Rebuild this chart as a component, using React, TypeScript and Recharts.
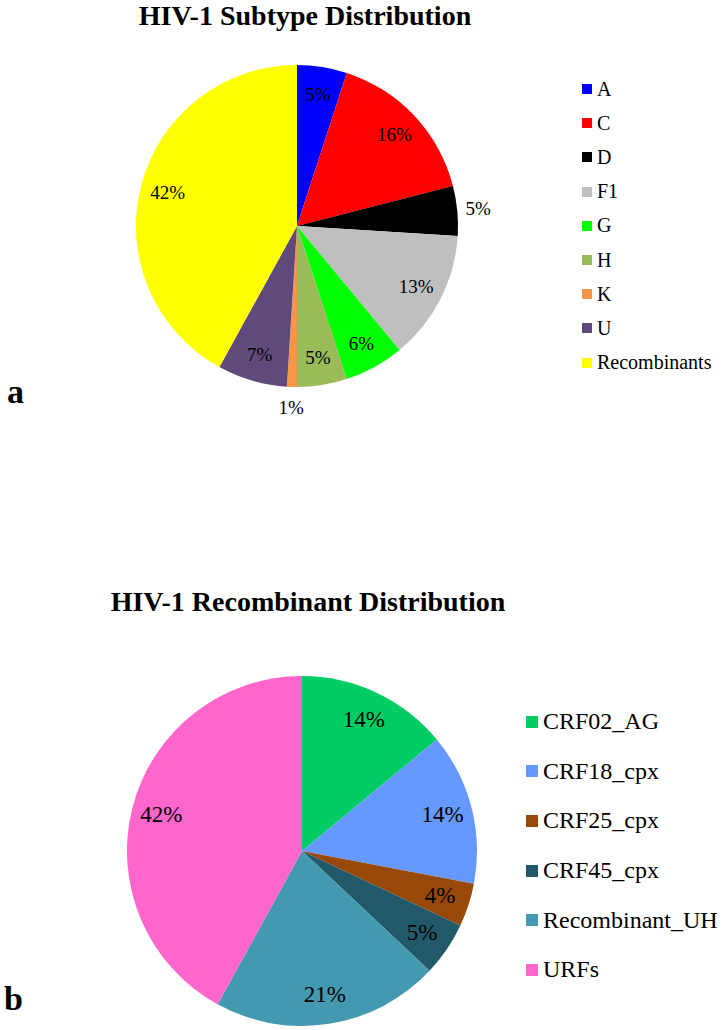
import React from "react";
import { Cell, Legend, Pie, PieChart } from "recharts";

const subtypeNames = ["A", "C", "D", "F1", "G", "H", "K", "U", "Recombinants"];
const subtypeValues = [5, 16, 5, 13, 6, 5, 1, 7, 42];
const subtypeColors = ["#0000FF", "#FF0000", "#000000", "#BFBFBF", "#00FF00", "#9BBB59", "#F79646", "#604A7B", "#FFFF00"];
const subtypeOutside = ["D", "K"];

const recombNames = ["CRF02_AG", "CRF18_cpx", "CRF25_cpx", "CRF45_cpx", "Recombinant_UH", "URFs"];
const recombValues = [14, 14, 4, 5, 21, 42];
const recombColors = ["#00CC66", "#6699FF", "#984807", "#215968", "#4399AF", "#FF66CC"];

const subtypeData = subtypeNames.map((name, i) => ({ name, value: subtypeValues[i] }));
const recombData = recombNames.map((name, i) => ({ name, value: recombValues[i] }));

const FONT = '"Liberation Serif", "Times New Roman", serif';
const RADIAN = Math.PI / 180;

const makeLabel = (fontSize: number, outside: string[]) => (props: any) => {
  const { cx, cy, midAngle, outerRadius, name, value } = props;
  const f = outside.includes(name) ? 1.13 : 0.83;
  const r = outerRadius * f;
  const x = cx + r * Math.cos(-midAngle * RADIAN);
  const y = cy + r * Math.sin(-midAngle * RADIAN);
  return (
    <text x={x} y={y} textAnchor="middle" dominantBaseline="central"
      fill="#000" fontSize={fontSize} fontFamily={FONT}>
      {value}%
    </text>
  );
};

// legend keeps the data order (recharts sorts by name otherwise)
const makeLegend = (order: string[], rowH: number, box: number, fontSize: number) => (props: any) => {
  const items = [...(props.payload || [])].sort(
    (a: any, b: any) => order.indexOf(a.value) - order.indexOf(b.value)
  );
  return (
    <div style={{ fontFamily: FONT, fontSize, color: "#000" }}>
      {items.map((p: any) => (
        <div key={p.value} style={{ height: rowH, display: "flex", alignItems: "center", whiteSpace: "nowrap" }}>
          <span style={{ display: "inline-block", width: box, height: box, background: p.color, marginRight: 5 }} />
          <span>{p.value}</span>
        </div>
      ))}
    </div>
  );
};

export default function App() {
  return (
    <div style={{ position: "absolute", left: 0, top: 0, width: 724, height: 1030, background: "#fff" }}>
      <div style={{ position: "absolute", left: 0, top: 0 }}>
        <PieChart width={724} height={430} margin={{ top: 0, right: 0, bottom: 0, left: 0 }}>
          <Pie data={subtypeData} dataKey="value" nameKey="name" cx={297} cy={226} outerRadius={161}
            startAngle={90} endAngle={-270} stroke="none" isAnimationActive={false}
            labelLine={false} label={makeLabel(19, subtypeOutside)}>
            {subtypeData.map((d, i) => <Cell key={d.name} fill={subtypeColors[i]} />)}
          </Pie>
          <Legend layout="vertical" align="right" verticalAlign="top"
            content={makeLegend(subtypeNames, 34.2, 10, 20)}
            wrapperStyle={{ left: 582, top: 72, width: 140 }} />
        </PieChart>
      </div>
      <div style={{ position: "absolute", left: 0, top: 440 }}>
        <PieChart width={724} height={590} margin={{ top: 0, right: 0, bottom: 0, left: 0 }}>
          <Pie data={recombData} dataKey="value" nameKey="name" cx={302} cy={411} outerRadius={175}
            startAngle={90} endAngle={-270} stroke="none" isAnimationActive={false}
            labelLine={false} label={makeLabel(23, [])}>
            {recombData.map((d, i) => <Cell key={d.name} fill={recombColors[i]} />)}
          </Pie>
          <Legend layout="vertical" align="right" verticalAlign="top"
            content={makeLegend(recombNames, 49.6, 12, 24)}
            wrapperStyle={{ left: 526, top: 257, width: 198 }} />
        </PieChart>
      </div>
      <svg width={724} height={1030} style={{ position: "absolute", left: 0, top: 0, pointerEvents: "none" }}>
        <text x={305} y={25} textAnchor="middle" fontFamily={FONT} fontWeight="bold" fontSize={28}>
          HIV-1 Subtype Distribution
        </text>
        <text x={308} y={611} textAnchor="middle" fontFamily={FONT} fontWeight="bold" fontSize={28}>
          HIV-1 Recombinant  Distribution
        </text>
        <text x={7} y={403} fontFamily={FONT} fontWeight="bold" fontSize={34}>a</text>
        <text x={4} y={1010} fontFamily={FONT} fontWeight="bold" fontSize={34}>b</text>
      </svg>
    </div>
  );
}
